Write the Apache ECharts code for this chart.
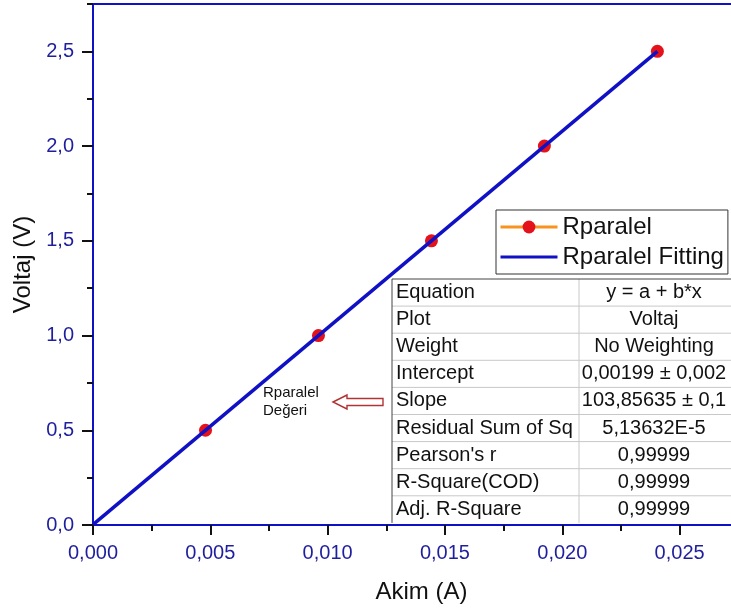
<!DOCTYPE html>
<html>
<head>
<meta charset="utf-8">
<script src="https://cdn.jsdelivr.net/npm/echarts@6/dist/echarts.min.js"></script>
<style>html,body{margin:0;padding:0;background:#fff;overflow:hidden;width:731px;height:612px;}#c{width:750px;height:612px;}</style>
</head>
<body>
<div id="c"></div>
<script>
// ---- data ----
const akimValues = [0.004795, 0.009609, 0.014424, 0.019238, 0.024053];
const voltajValues = [0.5, 1.0, 1.5, 2.0, 2.5];
const fitAkim = [0, 0.024053];
const fitVoltaj = [0.002, 2.5];
const xMajorTicks = [0, 0.005, 0.010, 0.015, 0.020, 0.025];
const xMinorTicks = [0.0025, 0.0075, 0.0125, 0.0175, 0.0225, 0.0275];
const yMajorTicks = [0, 0.5, 1.0, 1.5, 2.0, 2.5];
const yMinorTicks = [0.25, 0.75, 1.25, 1.75, 2.25, 2.75];
const tableLabels = ['Equation', 'Plot', 'Weight', 'Intercept', 'Slope', 'Residual Sum of Sq', "Pearson's r", 'R-Square(COD)', 'Adj. R-Square'];
const tableValues = ['y = a + b*x', 'Voltaj', 'No Weighting', '0,00199 ± 0,002', '103,85635 ± 0,1', '5,13632E-5', '0,99999', '0,99999', '0,99999'];
const annotationLines = ['Rparalel', 'Değeri'];
const legendNames = ['Rparalel', 'Rparalel Fitting'];

// ---- styles ----
const FONT = 'Liberation Sans, Arial, sans-serif';
const AXIS_BLUE = '#1010c4';
const LABEL_BLUE = '#1e1e9e';
const fmtComma = (digits) => (v) => v.toFixed(digits).replace('.', ',');

const chart = echarts.init(document.getElementById('c'), null, {renderer: 'canvas'});

// table graphic built from arrays
const tX0 = 392, tX1 = 579, tX2 = 750, tTop = 279, rowH = 27.1;
const graphics = [];
graphics.push({type: 'rect', z: 100, shape: {x: tX0, y: tTop, width: tX2 - tX0, height: rowH * tableLabels.length}, style: {fill: '#fff', stroke: null}});
for (let i = 1; i < tableLabels.length; i++) {
  graphics.push({type: 'line', z: 101, shape: {x1: tX0, y1: tTop + i * rowH, x2: tX2, y2: tTop + i * rowH}, style: {stroke: '#c8c8c8', lineWidth: 1}});
}
graphics.push({type: 'line', z: 101, shape: {x1: tX1, y1: tTop, x2: tX1, y2: tTop + rowH * tableLabels.length}, style: {stroke: '#c8c8c8', lineWidth: 1}});
graphics.push({type: 'line', z: 102, shape: {x1: tX0, y1: tTop, x2: tX2, y2: tTop}, style: {stroke: '#444', lineWidth: 1}});
graphics.push({type: 'line', z: 102, shape: {x1: tX0, y1: tTop, x2: tX0, y2: tTop + rowH * tableLabels.length}, style: {stroke: '#444', lineWidth: 1}});
tableLabels.forEach((lab, i) => {
  graphics.push({type: 'text', z: 103, style: {x: tX0 + 4, y: tTop + (i + 0.5) * rowH, text: lab, font: '20px ' + FONT, fill: '#111', textVerticalAlign: 'middle', textAlign: 'left'}});
  graphics.push({type: 'text', z: 103, style: {x: 654, y: tTop + (i + 0.5) * rowH, text: tableValues[i], font: '20px ' + FONT, fill: '#111', textVerticalAlign: 'middle', textAlign: 'center'}});
});
// annotation
annotationLines.forEach((t, i) => {
  graphics.push({type: 'text', z: 103, style: {x: 263, y: 393 + i * 18, text: t, font: '15px ' + FONT, fill: '#111', textVerticalAlign: 'middle', textAlign: 'left'}});
});
graphics.push({type: 'polygon', z: 103, shape: {points: [[333, 402], [347, 395], [347, 398.5], [383, 398.5], [383, 405.5], [347, 405.5], [347, 409]]}, style: {fill: '#fff', stroke: '#b03434', lineWidth: 1.4}});

const option = {
  backgroundColor: '#fff',
  animation: false,
  grid: {left: 93, top: 4, right: 0, bottom: 87, show: true, borderColor: AXIS_BLUE, borderWidth: 2, backgroundColor: 'transparent'},
  legend: {
    left: 496, top: 210, orient: 'vertical',
    backgroundColor: '#fff', borderColor: '#333', borderWidth: 1,
    padding: [5, 4, 5, 3], itemGap: 6, itemWidth: 57, itemHeight: 16,
    textStyle: {fontFamily: FONT, fontSize: 24, color: '#111'},
    data: [
      {name: legendNames[0], lineStyle: {color: '#f7931e', width: 3, opacity: 1}, itemStyle: {color: '#e3121b'}},
      {name: legendNames[1], lineStyle: {color: AXIS_BLUE, width: 3, opacity: 1}, itemStyle: {opacity: 0}}
    ],
    z: 120
  },
  xAxis: [{
    type: 'value', min: 0, max: 0.028, interval: 0.005, position: 'bottom',
    name: 'Akim (A)', nameLocation: 'middle', nameGap: 55,
    nameTextStyle: {fontFamily: FONT, fontSize: 24, color: '#111'},
    axisLine: {show: true, onZero: false, lineStyle: {color: AXIS_BLUE, width: 2}},
    axisTick: {show: true, inside: false, length: 10, customValues: xMajorTicks, lineStyle: {color: '#111', width: 2}},
    axisLabel: {customValues: xMajorTicks, formatter: fmtComma(3), margin: 18, fontFamily: FONT, fontSize: 20, color: LABEL_BLUE},
    splitLine: {show: false}
  }, {
    type: 'value', min: 0, max: 0.028, position: 'bottom',
    axisLine: {show: false, onZero: false},
    axisTick: {show: true, inside: false, length: 6, customValues: xMinorTicks, lineStyle: {color: '#111', width: 2}},
    axisLabel: {show: false},
    splitLine: {show: false}
  }],
  yAxis: [{
    type: 'value', min: 0, max: 2.75, interval: 0.5, position: 'left',
    name: 'Voltaj (V)', nameLocation: 'middle', nameGap: 57,
    nameTextStyle: {fontFamily: FONT, fontSize: 24, color: '#111'},
    axisLine: {show: true, onZero: false, lineStyle: {color: AXIS_BLUE, width: 2}},
    axisTick: {show: true, inside: false, length: 11, customValues: yMajorTicks, lineStyle: {color: '#111', width: 2}},
    axisLabel: {customValues: yMajorTicks, formatter: fmtComma(1), margin: 19, fontFamily: FONT, fontSize: 20, color: LABEL_BLUE},
    splitLine: {show: false}
  }, {
    type: 'value', min: 0, max: 2.75, position: 'left',
    axisLine: {show: false, onZero: false},
    axisTick: {show: true, inside: false, length: 6, customValues: yMinorTicks, lineStyle: {color: '#111', width: 2}},
    axisLabel: {show: false},
    splitLine: {show: false}
  }],
  series: [{
    name: legendNames[0], type: 'line', xAxisIndex: 0, yAxisIndex: 0,
    data: akimValues.map((x, i) => [x, voltajValues[i]]),
    symbol: 'circle', symbolSize: 13,
    itemStyle: {color: '#e3121b'},
    lineStyle: {color: '#f7931e', width: 3, opacity: 0},
    z: 2
  }, {
    name: legendNames[1], type: 'line', xAxisIndex: 0, yAxisIndex: 0,
    data: fitAkim.map((x, i) => [x, fitVoltaj[i]]),
    symbol: 'none',
    lineStyle: {color: AXIS_BLUE, width: 3.5},
    z: 3
  }],
  graphic: graphics
};
chart.setOption(option);
</script>
</body>
</html>
